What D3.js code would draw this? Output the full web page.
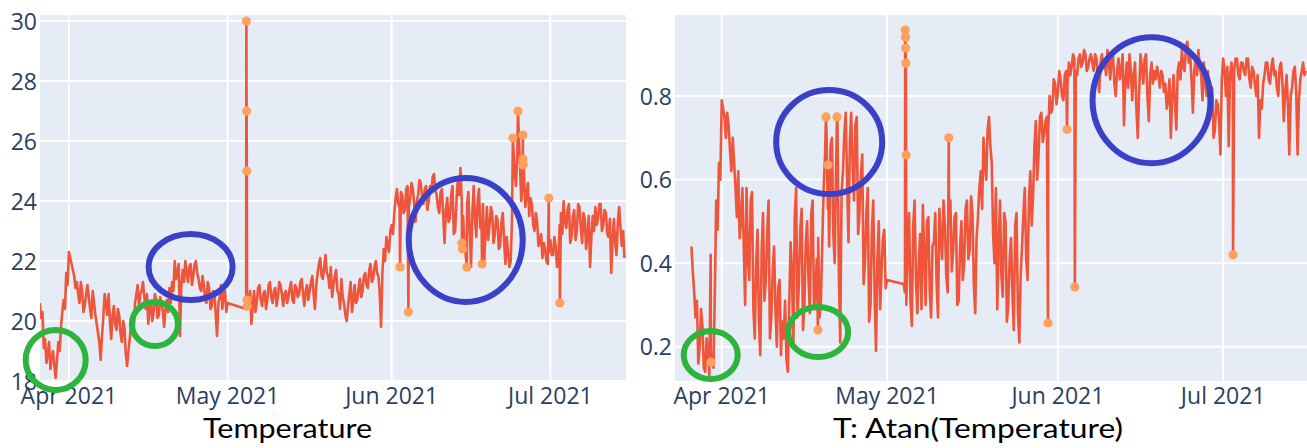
<!DOCTYPE html>
<html>
<head>
<meta charset="utf-8">
<script src="https://cdn.jsdelivr.net/npm/d3@7/dist/d3.min.js"></script>
<style>
  html, body { margin: 0; padding: 0; background: #ffffff; }
  svg { display: block; }
</style>
</head>
<body>
<svg id="chart" width="1307" height="448"></svg>
<script>
// ---- data -------------------------------------------------------------
// Both series are sampled every 6 hours starting at this timestamp;
// null marks readings that are missing (the line is joined across them).
const seriesStart = "2021-03-26T12:00";
const stepHours = 6;

const temperature = [
  20.6, 20.1, 20.3, 19.1, 19.4, 18.6, 18.9, 19.3, 18.4, 18.8,
  19.0, 18.5, 18.1, 18.7, 19.3, 19.0, 19.8, 20.3, 20.7, 20.4,
  21.6, 21.2, 22.3, 22.1, 21.9, 21.7, 21.5, 21.1, 21.3, 20.9,
  20.6, 21.3, 21.0, 20.3, 20.5, 20.9, 21.2, 20.8, 20.4, 20.1,
  21.0, 20.6, 20.2, 19.9, 19.6, 19.3, 18.7, 19.5, 20.1, 20.9,
  20.6, 20.2, 20.9, 20.0, 19.4, 20.2, 20.5, 19.9, 19.7, 20.4,
  20.2, 19.6, 19.3, 20.0, 19.8, 18.9, 18.5, 19.0, 19.4, 19.9,
  20.1, 19.7, 20.6, 20.9, 21.2, 20.5, 20.9, 21.0, 21.3, 20.8,
  20.4, 20.9, 19.9, 20.4, 20.6, 20.0, 20.3, 20.9, 20.7, 20.1,
  20.2, 20.8, 20.6, 20.3, 19.8, 20.4, 20.7, 20.3, 21.1, 20.6,
  21.3, 21.0, 22.0, 21.4, 21.6, 21.9, 19.5, 21.2, 21.7, 21.3,
  22.0, 21.6, 21.3, 21.8, 21.9, 21.2, 21.5, 21.9, 22.0, 21.6,
  21.4, 21.1, 21.0, 21.5, 21.2, 20.7, 20.6, 21.3, 21.1, 20.4,
  20.5, 21.0, 20.9, 20.2, 19.5, 20.6, 20.8, 21.2, 20.4, 20.9,
  21.0, 20.3, 20.6, null, null, null, null, null, null, null,
  null, null, null, null, null, null, 20.4, 20.9, 20.5, 21.0,
  19.9, 20.6, 21.0, 20.3, 20.6, 21.1, 21.2, 20.7, 20.5, 20.9,
  21.0, 20.4, 20.7, 21.2, 21.3, 20.8, 20.6, 21.0, 21.1, 20.5,
  20.8, 21.3, 21.2, 20.9, 20.5, 20.9, 21.0, 20.6, 20.8, 21.1,
  21.3, 20.7, 20.6, 21.2, 21.1, 20.8, 20.9, 21.3, 21.4, 20.9,
  20.5, 21.0, 21.2, 20.7, 21.0, 21.3, 21.5, 20.9, 20.4, 21.2,
  21.6, 21.9, 22.1, 21.5, 21.4, 21.8, 22.2, 21.6, 21.5, 21.1,
  21.8, 20.8, 21.2, 21.5, 21.7, 21.0, 20.9, 20.4, 21.4, 20.8,
  20.6, 20.2, 20.0, 20.5, 20.9, 21.3, 20.3, 20.7, 21.2, 20.6,
  20.7, 21.1, 21.4, 20.8, 21.0, 21.5, 21.6, 21.2, 21.1, 21.7,
  21.9, 21.3, 21.4, 21.8, 22.0, 21.6, 21.5, 20.9, 19.8, 21.6,
  22.4, 22.0, 22.8, 22.5, 22.3, 23.0, 23.2, 22.9, 23.6, 24.1,
  24.4, 23.9, 23.8, 24.3, 24.2, 23.6, 23.7, 24.4, 24.5, 23.8,
  24.1, 24.6, 24.4, 23.9, 23.3, 24.0, 24.2, 24.7, 24.6, 24.1,
  23.9, 24.4, 24.5, 23.7, 24.0, 24.5, 24.3, 24.8, 24.9, 24.4,
  24.2, 23.8, 23.6, 24.3, 24.4, 23.5, 22.6, 23.7, 24.1, 23.3,
  23.4, 24.2, 24.5, 22.9, 23.0, 24.0, 24.7, 24.2, 25.1, 24.0,
  23.5, 22.6, 22.2, 23.9, 24.3, 23.0, 21.8, 23.6, 24.5, 23.4,
  22.8, 24.0, 24.4, 23.1, 23.2, 23.9, 22.0, 23.0, 23.8, 22.7,
  23.2, 23.8, 23.6, 22.6, 22.9, 23.5, 23.4, 22.4, 22.5, 23.3,
  23.6, 22.7, 21.9, 22.8, 22.3, 21.8, 22.0, 23.4, 25.8, 24.9,
  24.5, 25.6, 26.4, 25.2, 24.0, 24.6, 25.0, 23.8, 24.2, 24.6,
  23.5, 24.1, 23.9, 23.2, 23.0, 23.6, 23.3, 22.5, 22.6, 22.9,
  22.1, 22.6, 22.4, 22.0, 21.9, 22.3, 22.7, 22.2, 22.2, 22.8,
  22.5, 21.8, 22.0, 23.2, 23.6, 22.9, 24.0, 23.3, 23.1, 23.7,
  23.9, 22.6, 22.8, 23.5, 23.7, 22.7, 23.0, 23.9, 23.8, 23.1,
  22.6, 23.6, 23.4, 22.4, 22.9, 23.5, 21.8, 22.8, 23.5, 23.0,
  23.8, 23.2, 23.4, 23.9, 23.9, 23.0, 23.2, 23.7, 23.6, 22.9,
  22.8, 23.4, 21.6, 22.7, 23.4, 22.6, 22.2, 23.3, 23.8, 23.1,
  22.5, 23.0, 22.1
];

const atanTemperature = [
  0.44, 0.38, 0.33, 0.27, 0.31, 0.16, 0.20, 0.29, 0.25, 0.15,
  0.14, 0.22, 0.19, 0.13, 0.42, 0.18, 0.15, 0.33, 0.55, 0.48,
  0.64, 0.60, 0.79, 0.77, 0.75, 0.70, 0.76, 0.73, 0.67, 0.62,
  0.70, 0.64, 0.58, 0.51, 0.62, 0.46, 0.50, 0.58, 0.44, 0.30,
  0.58, 0.41, 0.36, 0.55, 0.57, 0.29, 0.22, 0.40, 0.48, 0.26,
  0.18, 0.43, 0.52, 0.31, 0.36, 0.47, 0.55, 0.22, 0.27, 0.38,
  0.44, 0.29, 0.20, 0.34, 0.36, 0.18, 0.26, 0.22, 0.31, 0.17,
  0.14, 0.30, 0.45, 0.38, 0.20, 0.51, 0.58, 0.27, 0.35, 0.48,
  0.53, 0.24, 0.30, 0.45, 0.50, 0.36, 0.28, 0.52, 0.55, 0.29,
  0.33, 0.41, 0.46, 0.27, 0.31, 0.45, 0.58, 0.66, 0.72, 0.53,
  0.44, 0.68, 0.70, 0.47, 0.40, 0.63, 0.74, 0.38, 0.21, 0.57,
  0.62, 0.71, 0.76, 0.60, 0.45, 0.69, 0.76, 0.63, 0.55, 0.73,
  0.75, 0.47, 0.52, 0.61, 0.66, 0.35, 0.40, 0.52, 0.58, 0.26,
  0.30, 0.48, 0.55, 0.32, 0.19, 0.41, 0.50, 0.29, 0.38, 0.46,
  0.48, 0.34, 0.36, null, null, null, null, null, null, null,
  null, null, null, null, 0.35, 0.33, 0.30, 0.44, 0.52, 0.31,
  0.25, 0.49, 0.55, 0.36, 0.28, 0.40, 0.47, 0.29, 0.54, 0.42,
  0.30, 0.50, 0.51, 0.33, 0.27, 0.44, 0.45, 0.52, 0.35, 0.27,
  0.53, 0.46, 0.41, 0.55, 0.49, 0.37, 0.33, 0.50, 0.55, 0.38,
  0.43, 0.51, 0.52, 0.30, 0.31, 0.44, 0.50, 0.36, 0.40, 0.53,
  0.55, 0.41, 0.43, 0.56, 0.52, 0.35, 0.28, 0.46, 0.51, 0.58,
  0.62, 0.53, 0.70, 0.64, 0.60, 0.72, 0.75, 0.68, 0.64, 0.47,
  0.40, 0.58, 0.29, 0.44, 0.55, 0.37, 0.32, 0.52, 0.50, 0.26,
  0.30, 0.41, 0.46, 0.33, 0.24, 0.49, 0.52, 0.28, 0.21, 0.37,
  0.44, 0.52, 0.58, 0.41, 0.36, 0.55, 0.62, 0.49, 0.56, 0.68,
  0.74, 0.60, 0.66, 0.75, 0.76, 0.69, 0.71, 0.74, 0.75, 0.72,
  0.80, 0.76, 0.77, 0.84, 0.83, 0.78, 0.81, 0.86, 0.84, 0.80,
  0.79, 0.85, 0.86, 0.83, 0.88, 0.85, 0.87, 0.90, 0.89, 0.86,
  0.85, 0.89, 0.90, 0.87, 0.88, 0.91, 0.90, 0.86, 0.87, 0.89,
  0.90, 0.88, 0.86, 0.90, 0.89, 0.85, 0.81, 0.88, 0.90, 0.87,
  0.88, 0.85, 0.91, 0.88, 0.84, 0.89, 0.90, 0.83, 0.80, 0.86,
  0.89, 0.84, 0.86, 0.90, 0.73, 0.84, 0.88, 0.82, 0.90, 0.86,
  0.79, 0.85, 0.88, 0.77, 0.70, 0.81, 0.90, 0.87, 0.83, 0.89,
  0.90, 0.80, 0.74, 0.85, 0.88, 0.83, 0.86, 0.84, 0.87, 0.85,
  0.82, 0.86, 0.85, 0.81, 0.83, 0.77, 0.79, 0.84, 0.70, 0.80,
  0.85, 0.78, 0.72, 0.86, 0.88, 0.84, 0.91, 0.87, 0.86, 0.92,
  0.93, 0.88, 0.90, 0.84, 0.76, 0.86, 0.89, 0.85, 0.91, 0.87,
  0.85, 0.79, 0.88, 0.83, 0.80, 0.86, 0.75, 0.81, 0.82, 0.70,
  0.72, 0.79, 0.78, 0.74, 0.66, 0.84, 0.89, 0.86, 0.80, 0.87,
  0.68, 0.85, 0.88, 0.83, 0.86, 0.89, 0.89, 0.85, 0.84, 0.88,
  0.88, 0.86, 0.85, 0.89, 0.89, 0.84, 0.82, 0.87, 0.86, 0.83,
  0.80, 0.85, 0.70, 0.79, 0.77, 0.83, 0.85, 0.88, 0.88, 0.84,
  0.83, 0.87, 0.89, 0.85, 0.86, 0.82, 0.80, 0.87, 0.88, 0.83,
  0.74, 0.81, 0.85, 0.78, 0.66, 0.80, 0.82, 0.86, 0.87, 0.81,
  0.66, 0.79, 0.84, 0.86, 0.88, 0.85, 0.86
];

// Flagged anomalies: [timestamp, value]; they are part of each line too.
const temperatureAnomalies = [
  ["2021-05-04T13:00", 30.0], ["2021-05-04T14:00", 27.0], ["2021-05-04T15:00", 25.0],
  ["2021-05-04T16:00", 20.7], ["2021-05-04T17:00", 20.5],
  ["2021-06-02T14:00", 21.8], ["2021-06-04T04:00", 20.3],
  ["2021-06-14T07:00", 22.6], ["2021-06-14T09:00", 22.4], ["2021-06-15T05:00", 21.8],
  ["2021-06-18T02:00", 21.9],
  ["2021-06-23T22:00", 26.1], ["2021-06-24T21:00", 27.0],
  ["2021-06-25T19:00", 26.2], ["2021-06-25T20:00", 25.4], ["2021-06-25T21:00", 25.2],
  ["2021-06-30T17:00", 24.1], ["2021-07-02T19:00", 20.6]
];

const atanAnomalies = [
  ["2021-03-30T01:00", 0.163], ["2021-04-18T11:00", 0.24],
  ["2021-04-19T22:00", 0.75], ["2021-04-20T07:00", 0.635], ["2021-04-21T22:00", 0.75],
  ["2021-05-04T07:00", 0.958], ["2021-05-04T08:00", 0.941], ["2021-05-04T09:00", 0.915],
  ["2021-05-04T10:00", 0.879], ["2021-05-04T11:00", 0.659],
  ["2021-05-12T05:00", 0.70], ["2021-05-30T05:00", 0.257],
  ["2021-06-02T16:00", 0.72], ["2021-06-04T02:00", 0.343], ["2021-07-02T19:00", 0.42]
];

const xTickDates = ["2021-04-01", "2021-05-01", "2021-06-01", "2021-07-01"];
const temperatureTicks = [18, 20, 22, 24, 26, 28, 30];
const atanTicks = [0.2, 0.4, 0.6, 0.8];
const panelTitles = ["Temperature", "T: Atan(Temperature)"];

// Highlight rings drawn over the panels: [date, value, rx, ry, kind]
const temperatureRings = [
  ["2021-03-29T12:00", 18.7, 30, 30, "green"],
  ["2021-04-17T06:00", 19.9, 23, 22, "green"],
  ["2021-04-24T00:00", 21.8, 42, 33, "blue"],
  ["2021-06-15T00:00", 22.7, 57, 62, "blue"]
];
const atanRings = [
  ["2021-03-30T00:00", 0.18, 27, 24, "green"],
  ["2021-04-18T12:00", 0.235, 30, 25, "green"],
  ["2021-04-20T12:00", 0.69, 53, 52, "blue"],
  ["2021-06-18T00:00", 0.79, 59, 63, "blue"]
];

// ---- drawing ----------------------------------------------------------
const parse = d3.isoParse;
const svg = d3.select("#chart");

const COLORS = {
  bg: "#e5ecf6", grid: "#ffffff", tick: "#2a3f5f",
  line: "#ef553b", marker: "#ffa15a",
  green: "#2db43c", blue: "#3a40c8"
};

function buildPoints(values) {
  const t0 = parse(seriesStart);
  return values
    .map((v, i) => ({ t: d3.timeHour.offset(t0, i * stepHours), v }))
    .filter(d => d.v !== null);
}

function drawPanel(cfg) {
  const g = svg.append("g");
  const x = d3.scaleTime().domain(cfg.xDomain.map(parse)).range([cfg.left, cfg.right]);
  const y = d3.scaleLinear().domain(cfg.yDomain).range([cfg.bottom, cfg.top]);

  const clipId = "clip-" + cfg.id;
  svg.append("clipPath").attr("id", clipId)
    .append("rect")
    .attr("x", cfg.left).attr("y", cfg.top)
    .attr("width", cfg.right - cfg.left).attr("height", cfg.bottom - cfg.top);

  g.append("rect")
    .attr("x", cfg.left).attr("y", cfg.top)
    .attr("width", cfg.right - cfg.left).attr("height", cfg.bottom - cfg.top)
    .attr("fill", COLORS.bg);

  // grid
  g.append("g").selectAll("line").data(cfg.yTicks).join("line")
    .attr("x1", cfg.left).attr("x2", cfg.right)
    .attr("y1", d => y(d)).attr("y2", d => y(d))
    .attr("stroke", COLORS.grid).attr("stroke-width", 2);
  g.append("g").selectAll("line").data(xTickDates).join("line")
    .attr("x1", d => x(parse(d))).attr("x2", d => x(parse(d)))
    .attr("y1", cfg.top).attr("y2", cfg.bottom)
    .attr("stroke", COLORS.grid).attr("stroke-width", 2);

  // series
  const anomalies = cfg.anomalies.map(([t, v]) => ({ t: parse(t), v }));
  const pts = buildPoints(cfg.values).concat(anomalies).sort((a, b) => a.t - b.t);
  const line = d3.line().x(d => x(d.t)).y(d => y(d.v));
  const plot = g.append("g").attr("clip-path", `url(#${clipId})`);
  plot.append("path").datum(pts)
    .attr("d", line)
    .attr("fill", "none")
    .attr("stroke", COLORS.line)
    .attr("stroke-width", 2.6)
    .attr("stroke-linejoin", "round");
  plot.append("g").selectAll("circle").data(anomalies).join("circle")
    .attr("cx", d => x(d.t)).attr("cy", d => y(d.v)).attr("r", 4.6)
    .attr("fill", COLORS.marker);

  // y tick labels
  g.append("g").selectAll("text").data(cfg.yTicks).join("text")
    .attr("x", cfg.left - 3).attr("y", d => y(d) + 8.5)
    .attr("text-anchor", "end")
    .attr("font-family", "'Open Sans', sans-serif").attr("font-size", 23)
    .attr("fill", COLORS.tick)
    .text(d => cfg.yFormat(d));

  // x tick labels
  const fmt = d3.timeFormat("%b %Y");
  g.append("g").selectAll("text").data(xTickDates).join("text")
    .attr("x", d => x(parse(d))).attr("y", 404)
    .attr("text-anchor", "middle")
    .attr("font-family", "'Open Sans', sans-serif").attr("font-size", 23)
    .attr("fill", COLORS.tick)
    .text(d => fmt(parse(d)));

  // highlight rings
  g.append("g").selectAll("ellipse").data(cfg.rings).join("ellipse")
    .attr("cx", d => x(parse(d[0]))).attr("cy", d => y(d[1]))
    .attr("rx", d => d[2]).attr("ry", d => d[3])
    .attr("fill", "none")
    .attr("stroke", d => COLORS[d[4]])
    .attr("stroke-width", 6);

  // panel title
  g.append("text")
    .attr("x", cfg.titleX).attr("y", 438)
    .attr("text-anchor", "middle")
    .attr("font-family", "Lato, sans-serif").attr("font-size", 27)
    .attr("textLength", cfg.titleWidth).attr("lengthAdjust", "spacingAndGlyphs")
    .attr("fill", "#000000")
    .text(cfg.title);
}

drawPanel({
  id: "temp", left: 40, right: 626, top: 15, bottom: 381,
  xDomain: ["2021-03-26T12:50", "2021-07-15T07:00"],
  yDomain: [18, 30.2], yTicks: temperatureTicks, yFormat: d3.format("d"),
  values: temperature, anomalies: temperatureAnomalies, rings: temperatureRings,
  title: panelTitles[0], titleX: 287.5, titleWidth: 169
});

drawPanel({
  id: "atan", left: 675, right: 1307, top: 15, bottom: 381,
  xDomain: ["2021-03-23T12:30", "2021-07-16T05:00"],
  yDomain: [0.118, 0.994], yTicks: atanTicks, yFormat: d3.format(".1f"),
  values: atanTemperature, anomalies: atanAnomalies, rings: atanRings,
  title: panelTitles[1], titleX: 978, titleWidth: 290
});
</script>
</body>
</html>
